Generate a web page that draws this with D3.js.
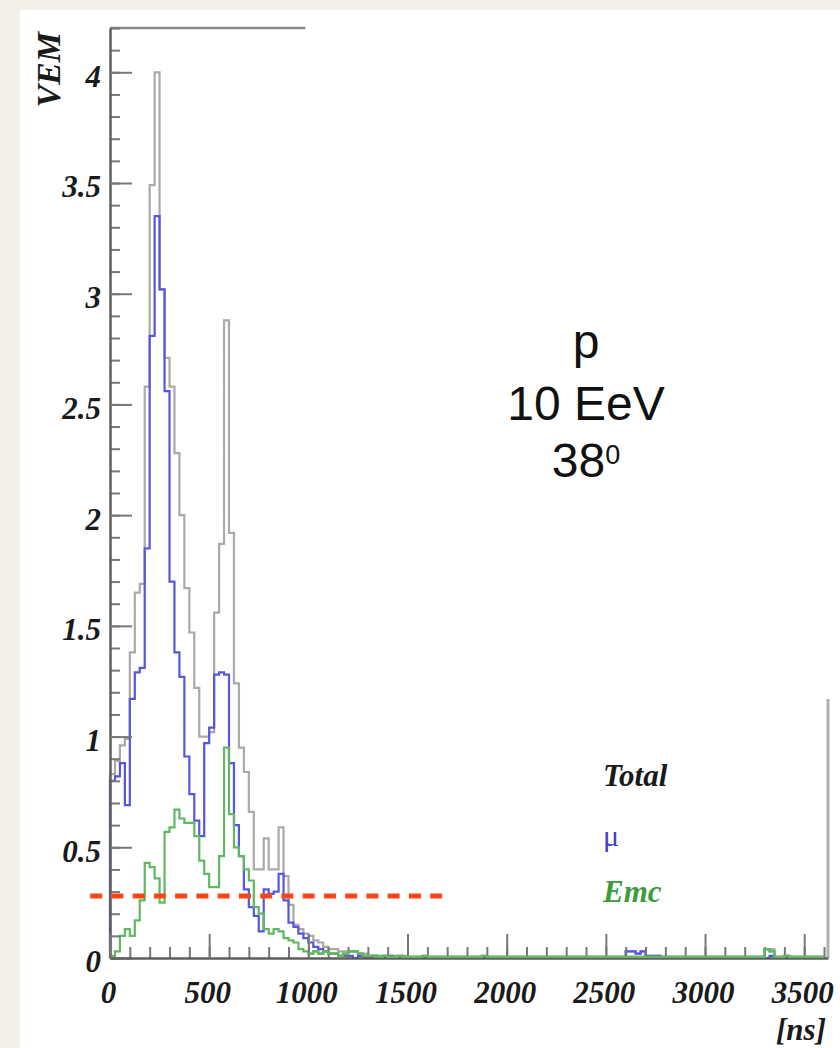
<!DOCTYPE html>
<html><head><meta charset="utf-8">
<script src="https://cdn.jsdelivr.net/npm/d3@7"></script>
<style>html,body{margin:0;padding:0;background:#f3efe9;} svg{display:block;}</style>
</head><body>
<svg id="c" width="840" height="1048"></svg>
<script>
// ---------------- data ----------------
const binWidthNs = 25;            // histogram bin width (ns), bins start at 0 ns

const totalVEM = [
  0.83, 0.89, 0.96, 0.99, 1.38, 1.65, 1.69, 2.58, 3.49, 4.00,
  3.02, 2.71, 2.58, 2.28, 2.00, 1.67, 1.47, 1.22, 1.00, 1.00,
  1.02, 1.56, 1.87, 2.88, 1.92, 1.24, 0.95, 0.84, 0.66, 0.40,
  0.40, 0.54, 0.40, 0.40, 0.59, 0.37, 0.24, 0.15, 0.13, 0.11,
  0.10, 0.08, 0.07, 0.05, 0.04, 0.04, 0.03, 0.03, 0.03, 0.03,
  0.02, 0.02, 0.01, 0.01, 0.01, 0.01, 0.01, 0.01, 0.01, 0.01,
  0.005, 0.005, 0.005, 0.005, 0.005, 0.005, 0.005, 0.005, 0.005, 0.005,
  0.005, 0.005, 0.005, 0.005, 0.005, 0.005, 0.005, 0.005, 0.005, 0.005,
  0.005, 0.005, 0.005, 0.005, 0.005, 0.005, 0.005, 0.005, 0.005, 0.005,
  0.005, 0.005, 0.005, 0.005, 0.005, 0.005, 0.005, 0.005, 0.005, 0.005,
  0.005, 0.005, 0.005, 0.005, 0.03, 0.03, 0.02, 0.03, 0.01, 0.01,
  0.01, 0.005, 0.005, 0.005, 0.005, 0.005, 0.005, 0.005, 0.005, 0.005,
  0.005, 0.005, 0.005, 0.005, 0.005, 0.005, 0.005, 0.005, 0.005, 0.005,
  0.005, 0.005, 0.04, 0.04, 0.005, 0.005, 0.01, 0.005, 0.005, 0.005,
  0.005, 0.005, 0.005, 0.005
];

const muonVEM = [
  0.80, 0.82, 0.88, 0.69, 1.17, 1.29, 1.31, 1.85, 2.81, 3.35,
  3.02, 2.56, 1.70, 1.38, 1.27, 0.91, 0.74, 0.62, 0.55, 0.97,
  1.04, 1.28, 1.29, 1.28, 0.88, 0.60, 0.46, 0.31, 0.23, 0.19,
  0.12, 0.31, 0.29, 0.30, 0.38, 0.26, 0.16, 0.14, 0.11, 0.09,
  0.07, 0.05, 0.04, 0.03, 0.02, 0.02, 0.01, 0.01, 0.01, 0.00,
  0.01, 0.00, 0.00, 0.01, 0.00, 0.00, 0.01, 0.00, 0.00, 0.00,
  0.00, 0.00, 0.00, 0.00, 0.00, 0.00, 0.00, 0.00, 0.00, 0.00,
  0.00, 0.00, 0.00, 0.00, 0.00, 0.00, 0.00, 0.00, 0.00, 0.00,
  0.00, 0.00, 0.00, 0.00, 0.00, 0.00, 0.00, 0.00, 0.00, 0.00,
  0.00, 0.00, 0.00, 0.00, 0.00, 0.00, 0.00, 0.00, 0.00, 0.00,
  0.00, 0.00, 0.00, 0.00, 0.03, 0.03, 0.02, 0.03, 0.01, 0.01,
  0.01, 0.00, 0.00, 0.00, 0.00, 0.00, 0.00, 0.00, 0.00, 0.00,
  0.00, 0.00, 0.00, 0.00, 0.00, 0.00, 0.00, 0.00, 0.00, 0.00,
  0.00, 0.00, 0.00, 0.01, 0.00, 0.00, 0.00, 0.00, 0.00, 0.00,
  0.00, 0.00, 0.00, 0.00
];

const emVEM = [
  0.01, 0.03, 0.10, 0.13, 0.10, 0.17, 0.26, 0.43, 0.41, 0.36,
  0.25, 0.57, 0.59, 0.67, 0.63, 0.61, 0.61, 0.55, 0.44, 0.38,
  0.32, 0.32, 0.46, 0.95, 0.65, 0.50, 0.46, 0.40, 0.35, 0.23,
  0.20, 0.13, 0.11, 0.13, 0.12, 0.09, 0.08, 0.07, 0.04, 0.03,
  0.02, 0.03, 0.02, 0.03, 0.02, 0.02, 0.01, 0.02, 0.03, 0.03,
  0.02, 0.01, 0.01, 0.01, 0.005, 0.01, 0.005, 0.005, 0.01, 0.005,
  0.005, 0.005, 0.005, 0.01, 0.005, 0.005, 0.005, 0.005, 0.005, 0.005,
  0.005, 0.005, 0.005, 0.005, 0.005, 0.01, 0.005, 0.005, 0.005, 0.005,
  0.005, 0.005, 0.005, 0.005, 0.005, 0.005, 0.005, 0.005, 0.005, 0.005,
  0.005, 0.005, 0.005, 0.005, 0.005, 0.005, 0.005, 0.005, 0.005, 0.005,
  0.005, 0.005, 0.005, 0.005, 0.005, 0.005, 0.005, 0.005, 0.005, 0.005,
  0.005, 0.005, 0.005, 0.005, 0.005, 0.005, 0.005, 0.005, 0.005, 0.005,
  0.005, 0.005, 0.005, 0.005, 0.005, 0.005, 0.005, 0.005, 0.005, 0.005,
  0.005, 0.005, 0.04, 0.03, 0.005, 0.005, 0.01, 0.005, 0.005, 0.005,
  0.005, 0.005, 0.005, 0.005
];

const yMajorTicks = [0, 0.5, 1, 1.5, 2, 2.5, 3, 3.5, 4];
const yTickLabels = ["0", "0.5", "1", "1.5", "2", "2.5", "3", "3.5", "4"];
const xMajorTicks = [0, 500, 1000, 1500, 2000, 2500, 3000, 3500];
const xTickLabels = ["0", "500", "1000", "1500", "2000", "2500", "3000", "3500"];
const yAxisTitle = "VEM";
const xAxisTitle = "[ns]";
const thresholdVEM = 0.28;
const thresholdSpanNs = [-100, 1675];
const legendLabels = ["Total", "\u03bc", "Emc"];
const annotationLines = ["p", "10 EeV", "38"];
const annotationSup = "0";

// ---------------- layout ----------------
const W = 840, H = 1048;
const svg = d3.select("#c");
svg.append("rect").attr("x", 20).attr("y", 10).attr("width", W - 20).attr("height", H - 10).attr("fill", "#ffffff");

const x = d3.scaleLinear().domain([0, 3620]).range([110, 828]);
const y = d3.scaleLinear().domain([0, 4.2]).range([958, 28]);

const serifBI = "'Liberation Serif', 'Times New Roman', serif";
const fontSize = 31;

// frame fragments
svg.append("line").attr("x1", x(0)).attr("x2", x(985)).attr("y1", y(4.2)).attr("y2", y(4.2))
  .attr("stroke", "#8a8a8a").attr("stroke-width", 2.5);
svg.append("line").attr("x1", x(3620)).attr("x2", x(3620)).attr("y1", y(1.17)).attr("y2", y(0))
  .attr("stroke", "#b0b0b0").attr("stroke-width", 3);

// ---------------- histograms ----------------
function stepPoints(vals) {
  const pts = [[0, 0]];
  vals.forEach((v, i) => pts.push([i * binWidthNs, v]));
  pts.push([vals.length * binWidthNs, vals[vals.length - 1]]);
  return pts;
}
const line = d3.line().x(d => x(d[0])).y(d => y(d[1])).curve(d3.curveStepAfter);

svg.append("path").attr("d", line(stepPoints(totalVEM)))
  .attr("fill", "none").attr("stroke", "#a9a9a9").attr("stroke-width", 2.2);
svg.append("path").attr("d", line(stepPoints(muonVEM)))
  .attr("fill", "none").attr("stroke", "#5656de").attr("stroke-width", 2.2);
svg.append("path").attr("d", line(stepPoints(emVEM)))
  .attr("fill", "none").attr("stroke", "#62b862").attr("stroke-width", 2.2);

// ---------------- axes ----------------
function styleAxis(g) {
  g.select(".domain").attr("stroke", "#5e5e5e").attr("stroke-width", 2.5);
  g.selectAll(".tick line").attr("stroke", "#777").attr("stroke-width", 2);
  g.selectAll("text").attr("font-family", serifBI).attr("font-weight", "bold")
    .attr("font-style", "italic").attr("font-size", fontSize).attr("fill", "#1a1a1a");
}

// y minor ticks
svg.append("g").attr("transform", `translate(${x(0)},0)`)
  .call(d3.axisLeft(y).tickValues(y.ticks(42)).tickSizeInner(-10).tickSizeOuter(0).tickFormat(""))
  .call(g => { g.select(".domain").remove(); g.selectAll(".tick line").attr("stroke", "#777").attr("stroke-width", 2); });
// y major
svg.append("g").attr("transform", `translate(${x(0)},0)`)
  .call(d3.axisLeft(y).tickValues(yMajorTicks).tickSizeInner(-22).tickSizeOuter(0).tickPadding(9)
    .tickFormat((d, i) => yTickLabels[i]))
  .call(styleAxis)
  .call(g => g.selectAll("text").attr("dy", "0.45em"));

// x minor
svg.append("g").attr("transform", `translate(0,${y(0)})`)
  .call(d3.axisBottom(x).tickValues(x.ticks(36)).tickSizeInner(-11).tickSizeOuter(0).tickFormat(""))
  .call(g => { g.select(".domain").remove(); g.selectAll(".tick line").attr("stroke", "#777").attr("stroke-width", 2); });
// x major
svg.append("g").attr("transform", `translate(0,${y(0)})`)
  .call(d3.axisBottom(x).tickValues(xMajorTicks).tickSizeInner(-24).tickSizeOuter(0).tickPadding(23)
    .tickFormat((d, i) => xTickLabels[i]))
  .call(styleAxis)
  .call(g => g.selectAll("text").attr("dx", "-2"));

// green tail redrawn over the axis line (Emc drawn last, as in the original)
svg.append("path").attr("d", line(stepPoints(emVEM).filter(d => d[0] >= 1000)))
  .attr("fill", "none").attr("stroke", "#62b862").attr("stroke-width", 2.2);

// axis titles
svg.append("text").attr("transform", `translate(60,32) rotate(-90)`).attr("text-anchor", "end")
  .attr("font-family", serifBI).attr("font-weight", "bold").attr("font-style", "italic")
  .attr("font-size", 34).attr("fill", "#1a1a1a").text(yAxisTitle);
svg.append("text").attr("x", 826).attr("y", 1040).attr("text-anchor", "end")
  .attr("font-family", serifBI).attr("font-weight", "bold").attr("font-style", "italic")
  .attr("font-size", 31).attr("fill", "#1a1a1a").text(xAxisTitle);

// threshold line
svg.append("line").attr("x1", x(thresholdSpanNs[0])).attr("x2", x(thresholdSpanNs[1]))
  .attr("y1", y(thresholdVEM)).attr("y2", y(thresholdVEM))
  .attr("stroke", "#ff4516").attr("stroke-width", 5).attr("stroke-dasharray", "12,9.25");

// legend
const legendStyle = [
  {y: 786, color: "#1a1a1a", weight: "bold", style: "italic", size: 31},
  {y: 846, color: "#4040cc", weight: "normal", style: "normal", size: 30},
  {y: 902, color: "#3c9c3c", weight: "bold", style: "italic", size: 31}
];
legendLabels.forEach((t, i) => {
  const s = legendStyle[i];
  svg.append("text").attr("x", 603).attr("y", s.y).attr("font-family", serifBI)
    .attr("font-weight", s.weight).attr("font-style", s.style).attr("font-size", s.size)
    .attr("fill", s.color).text(t);
});

// annotation
const sans = "'Liberation Sans', Arial, Helvetica, sans-serif";
const annY = [358, 420, 477];
annotationLines.forEach((t, i) => {
  const tx = svg.append("text").attr("x", 586).attr("y", annY[i]).attr("text-anchor", "middle")
    .attr("font-family", sans).attr("font-size", 48).attr("fill", "#111");
  tx.append("tspan").text(t);
  if (i === 2) tx.append("tspan").attr("font-size", 27).attr("dy", -13).text(annotationSup);
});
</script>
</body></html>
